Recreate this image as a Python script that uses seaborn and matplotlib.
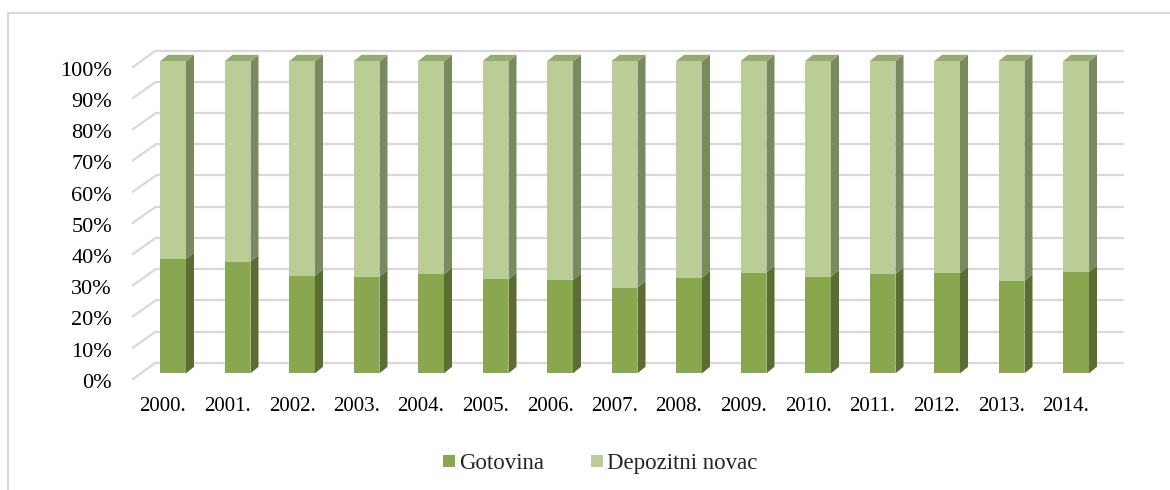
import numpy as np
import pandas as pd
import matplotlib
matplotlib.use("Agg")
import matplotlib.pyplot as plt
import matplotlib.transforms as mtransforms
from matplotlib.patches import Polygon
from matplotlib.lines import Line2D
import seaborn as sns

# --- data (share of money supply, %) ---
years = ["2000.", "2001.", "2002.", "2003.", "2004.", "2005.", "2006.", "2007.",
         "2008.", "2009.", "2010.", "2011.", "2012.", "2013.", "2014."]
gotovina = [36.6, 35.8, 31.3, 31.0, 31.7, 30.1, 29.9, 27.5,
            30.7, 32.3, 31.0, 31.8, 32.1, 29.7, 32.5]
depozitni = [100 - g for g in gotovina]
y_ticks = [0, 10, 20, 30, 40, 50, 60, 70, 80, 90, 100]
y_labels = [f"{t}%" for t in y_ticks]

df = pd.DataFrame({"year": years, "gotovina": gotovina, "depozitni": depozitni})
df["total"] = df["gotovina"] + df["depozitni"]

# colours
c_got = "#8AA64F"
c_got_side = "#5B6D33"
c_dep = "#BBCD96"
c_dep_side = "#788A5F"
c_top = "#97AA72"
c_grid = "#D9D9D9"

sns.set_theme(style="white")
plt.rcParams["font.family"] = ["Liberation Serif", "DejaVu Serif"]
FS_X = 15
FS_Y = 16
FS_LEG = 16.5

W, H = 1170, 490
fig = plt.figure(figsize=(W / 100, H / 100), dpi=100)

# axes placed in pixels: bar plane 0% at y=373, 3.12 px per %
px_per_pct = 3.12
px_per_cat = 64.5
x0_px, y0_px = 173, 373.3
ax_left, ax_right, ax_top = 130, 1165, 28
ax = fig.add_axes([ax_left / W, (H - y0_px) / H,
                   (ax_right - ax_left) / W, (y0_px - ax_top) / H])

sns.barplot(data=df, x="year", y="total", color=c_dep, width=0.403,
            saturation=1, errorbar=None, linewidth=0, ax=ax, zorder=3)
sns.barplot(data=df, x="year", y="gotovina", color=c_got, width=0.403,
            saturation=1, errorbar=None, linewidth=0, ax=ax, zorder=4)

ax.set_xlim((ax_left - x0_px) / px_per_cat, (ax_right - x0_px) / px_per_cat)
ax.set_ylim(0, (y0_px - ax_top) / px_per_pct)
ax.set_xlabel("")
ax.set_ylabel("")
for s in ax.spines.values():
    s.set_visible(False)
ax.grid(False)


def shifted(x, y, dx, dy):
    """data point shifted by (dx, dy) pixels, returned in data coords"""
    d = ax.transData.transform((x, y))
    return ax.transData.inverted().transform((d[0] + dx, d[1] + dy))


# 3D wall: back gridlines and small diagonals on the left
back = (15, 10.6)
front = (-8, -5.7)
for t in y_ticks:
    a = shifted(-0.5, t, *back)
    b = shifted(14.5, t, *back)
    ax.add_line(Line2D([a[0], b[0]], [a[1], b[1]], color=c_grid, lw=1.6,
                       zorder=1, clip_on=False))
    f = shifted(-0.5, t, *front)
    ax.add_line(Line2D([f[0], a[0]], [f[1], a[1]], color=c_grid, lw=1.6,
                       zorder=1, clip_on=False))

# 3D bar sides and tops
depth = (8, 6.5)
n = len(years)
for i, p in enumerate(ax.patches[:n]):
    xr = p.get_x() + p.get_width()
    xl = p.get_x()
    g = gotovina[i]
    top = g + depozitni[i]
    # side faces
    for y_lo, y_hi, col in [(0, g, c_got_side), (g, top, c_dep_side)]:
        pts = [(xr, y_lo), (xr, y_hi), tuple(shifted(xr, y_hi, *depth)),
               tuple(shifted(xr, y_lo, *depth))]
        ax.add_patch(Polygon(pts, closed=True, facecolor=col, lw=0,
                             zorder=2, clip_on=False))
    pts = [(xl, top), (xr, top), tuple(shifted(xr, top, *depth)),
           tuple(shifted(xl, top, *depth))]
    ax.add_patch(Polygon(pts, closed=True, facecolor=c_top, lw=0,
                         zorder=2, clip_on=False))

# ticks
ax.set_yticks(y_ticks)
ax.set_yticklabels(y_labels, fontsize=FS_Y, color="#000000")
ax.tick_params(axis="y", length=0, pad=13)
ax.tick_params(axis="x", length=0, pad=17, labelsize=FS_X, labelcolor="#000000")
for lab in ax.get_yticklabels():
    lab.set_transform(lab.get_transform() +
                      mtransforms.ScaledTranslation(0, -7.5 / 100, fig.dpi_scale_trans))
for lab in ax.get_xticklabels():
    lab.set_transform(lab.get_transform() +
                      mtransforms.ScaledTranslation(-10 / 100, 0, fig.dpi_scale_trans))

# legend
handles = [Line2D([], [], marker="s", linestyle="", markersize=8,
                  markerfacecolor=c_got, markeredgewidth=0),
           Line2D([], [], marker="s", linestyle="", markersize=8,
                  markerfacecolor=c_dep, markeredgewidth=0)]
fig.legend(handles, ["Gotovina", "Depozitni novac"], loc="center",
           bbox_to_anchor=(600 / W, 1 - 463 / H), ncol=2, frameon=False,
           fontsize=FS_LEG, handlelength=0.6, handletextpad=0.15,
           columnspacing=2.0)

# chart border (top and left visible)
fig.add_artist(Line2D([8 / W, 1], [1 - 13 / H, 1 - 13 / H], color=c_grid,
                      lw=1.5, transform=fig.transFigure))
fig.add_artist(Line2D([8 / W, 8 / W], [0, 1 - 13 / H], color=c_grid,
                      lw=1.5, transform=fig.transFigure))

fig.savefig("out.png", dpi=100)
